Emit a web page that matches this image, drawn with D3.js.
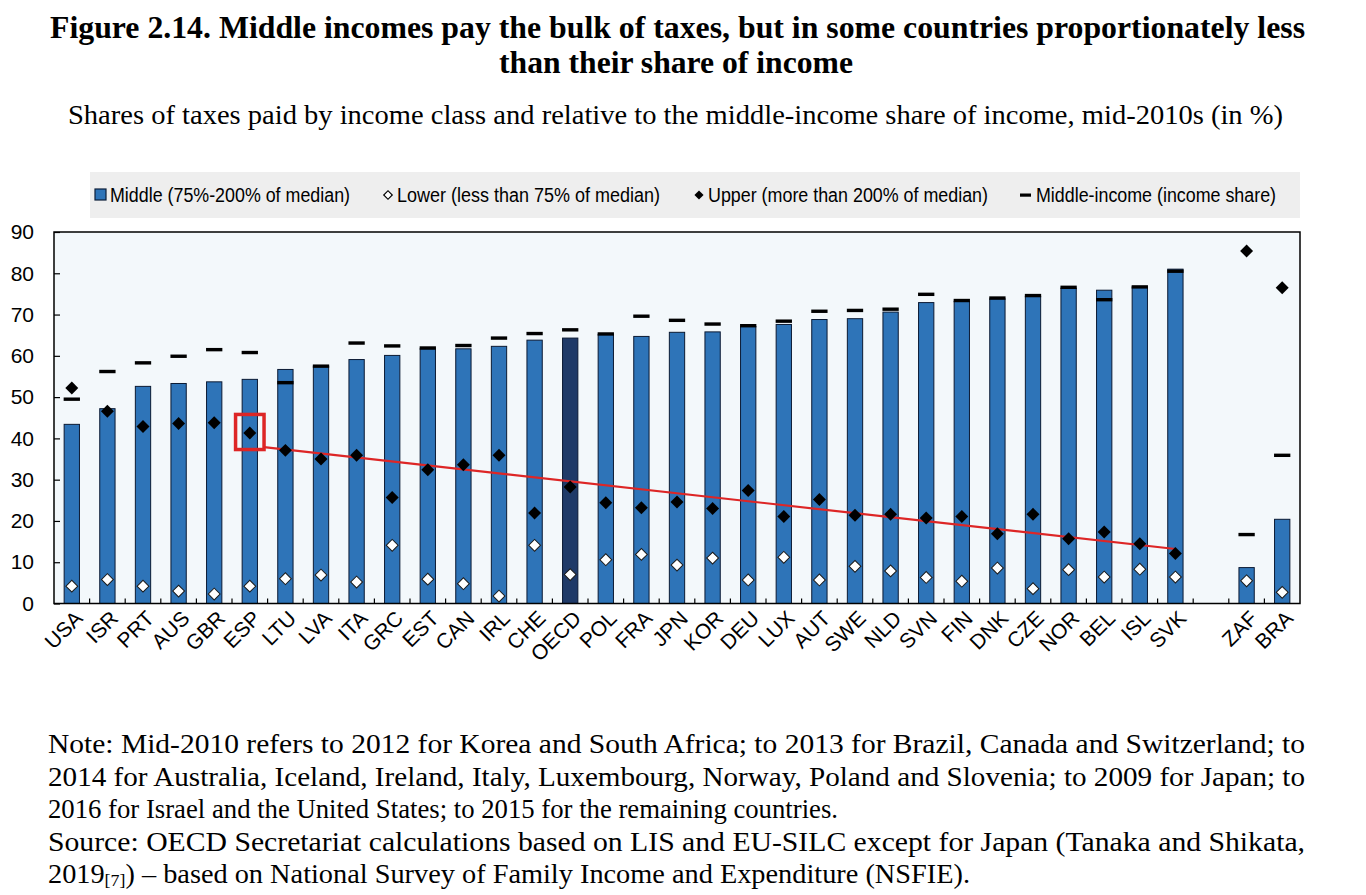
<!DOCTYPE html>
<html>
<head>
<meta charset="utf-8">
<script src="https://cdn.jsdelivr.net/npm/d3@7"></script>
<style>
  html, body { margin: 0; padding: 0; background: #ffffff; }
  svg { display: block; }
</style>
</head>
<body>
<svg id="chart" width="1366" height="895"></svg>
<script>
// ---------- DATA ----------
const countries = ["USA","ISR","PRT","AUS","GBR","ESP","LTU","LVA","ITA","GRC","EST","CAN","IRL","CHE","OECD","POL","FRA","JPN","KOR","DEU","LUX","AUT","SWE","NLD","SVN","FIN","DNK","CZE","NOR","BEL","ISL","SVK","ZAF","BRA"];
const gapAfter = "SVK";
const middleShare = [43.4,47.2,52.6,53.3,53.7,54.3,56.7,57.5,59.1,60.1,61.7,61.7,62.3,63.8,64.3,65.2,64.7,65.7,65.8,67.1,67.6,68.8,69.0,70.6,72.9,73.2,73.8,74.4,76.4,75.9,76.7,81.0,8.7,20.4];
const lowerShare  = [4.2,5.8,4.2,3.0,2.3,4.2,6.0,6.9,5.2,14.1,5.9,4.8,1.8,14.1,7.0,10.6,11.9,9.3,11.0,5.7,11.2,5.7,9.0,7.9,6.3,5.4,8.6,3.6,8.2,6.4,8.3,6.4,5.5,2.7];
const upperShare  = [52.2,46.6,42.9,43.6,43.8,41.3,37.1,35.0,35.9,25.7,32.4,33.6,35.9,21.9,28.2,24.4,23.2,24.6,23.0,27.4,21.1,25.2,21.4,21.6,20.7,21.1,16.9,21.6,15.7,17.3,14.5,12.1,85.4,76.5];
const incomeShare = [49.5,56.2,58.3,59.9,61.5,60.8,53.5,57.5,63.1,62.4,61.9,62.5,64.3,65.4,66.3,65.3,69.6,68.6,67.7,67.3,68.4,70.8,71.0,71.3,74.9,73.4,74.0,74.6,76.6,73.6,76.7,80.5,16.7,35.9];
const highlightCountry = "OECD";
const yTicks = [0,10,20,30,40,50,60,70,80,90];
// annotation: red box around ESP upper-share marker, red line down to SVK
const boxCountry = "ESP";
const boxRange = [37.3, 45.8];
const trendEnd = { country: "SVK", value: 13.2 };
const trendStartValue = 37.9;

const titleLines = ["Figure 2.14. Middle incomes pay the bulk of taxes, but in some countries proportionately less", "than their share of income"];
const subtitle = "Shares of taxes paid by income class and relative to the middle-income share of income, mid-2010s (in %)";
const legendLabels = ["Middle (75%-200% of median)", "Lower (less than 75% of median)", "Upper (more than 200% of median)", "Middle-income (income share)"];
const noteLines = [
  "Note: Mid-2010 refers to 2012 for Korea and South Africa; to 2013 for Brazil, Canada and Switzerland; to",
  "2014 for Australia, Iceland, Ireland, Italy, Luxembourg, Norway, Poland and Slovenia; to 2009 for Japan; to",
  "2016 for Israel and the United States; to 2015 for the remaining countries.",
  "Source: OECD Secretariat calculations based on LIS and EU-SILC except for Japan (Tanaka and Shikata,"
];

// ---------- LAYOUT ----------
const svg = d3.select("#chart");
const plot = { left: 54, right: 1300, top: 232, bottom: 603.5 };
const BLUE = "#2e74b8", DARK = "#1f3a68", RED = "#dd2626";
const serif = "'Liberation Serif','Times New Roman',serif";
const narrow = "'Liberation Sans Narrow','Arial Narrow','Liberation Sans',Arial,sans-serif";

const domain = [];
countries.forEach(c => { domain.push(c); if (c === gapAfter) domain.push("__gap__"); });
const x = d3.scaleBand().domain(domain).range([plot.left, plot.right]).padding(0);
const y = d3.scaleLinear().domain([0, 90]).range([plot.bottom, plot.top]);
const barW = x.bandwidth() * 0.43;
const cx = c => x(c) + x.bandwidth() / 2;

const data = countries.map((c, i) => ({ c, mid: middleShare[i], low: lowerShare[i], up: upperShare[i], inc: incomeShare[i] }));

// fit a text element to a target width: justify with word spacing if short, compress glyphs if long
function fit(el, width, justify) {
  const w = el.node().getComputedTextLength();
  const txt = el.text();
  const spaces = (txt.match(/ /g) || []).length;
  if (w < width && justify && spaces > 0) {
    el.attr("word-spacing", (width - w) / spaces);
  } else {
    el.attr("textLength", width).attr("lengthAdjust", "spacingAndGlyphs");
  }
}

// ---------- TITLES ----------
const t1 = svg.append("text").attr("x", 50).attr("y", 38).attr("font-family", serif).attr("font-weight", "bold")
  .attr("font-size", 32).attr("fill", "#000").text(titleLines[0]);
fit(t1, 1255, false);
const t2 = svg.append("text").attr("x", 499).attr("y", 73).attr("font-family", serif).attr("font-weight", "bold")
  .attr("font-size", 32).attr("fill", "#000").text(titleLines[1]);
fit(t2, 354, false);
const st = svg.append("text").attr("x", 68).attr("y", 124).attr("font-family", serif)
  .attr("font-size", 27).attr("fill", "#000").text(subtitle);
fit(st, 1215, false);

// ---------- LEGEND ----------
const lg = svg.append("g");
lg.append("rect").attr("x", 90).attr("y", 172).attr("width", 1210).attr("height", 46).attr("fill", "#eeeeee");
const legY = 195;
const sq = d3.symbol().type(d3.symbolSquare);
lg.append("rect").attr("x", 95).attr("y", legY - 6).attr("width", 11).attr("height", 11)
  .attr("fill", BLUE).attr("stroke", "#0d1f3a").attr("stroke-width", 1.2);
lg.append("path").attr("d", sq.size(36)()).attr("transform", `translate(388,${legY}) rotate(45)`)
  .attr("fill", "#fff").attr("stroke", "#000").attr("stroke-width", 1.2);
lg.append("path").attr("d", sq.size(42)()).attr("transform", `translate(699,${legY}) rotate(45)`).attr("fill", "#000");
lg.append("rect").attr("x", 1020).attr("y", legY - 1.5).attr("width", 11).attr("height", 3.2).attr("fill", "#000");
const legText = [[110, 240], [397, 263], [708, 280], [1036, 240]];
legendLabels.forEach((t, i) => {
  const el = lg.append("text").attr("x", legText[i][0]).attr("y", legY + 7).attr("font-family", narrow)
    .attr("font-size", 20).attr("fill", "#000").text(t);
  fit(el, legText[i][1], false);
});

// ---------- PLOT ----------
svg.append("rect").attr("x", plot.left).attr("y", plot.top)
  .attr("width", plot.right - plot.left).attr("height", plot.bottom - plot.top)
  .attr("fill", "#f3f8fb");

// bars
svg.append("g").selectAll("rect").data(data).join("rect")
  .attr("x", d => cx(d.c) - barW / 2)
  .attr("y", d => y(d.mid))
  .attr("width", barW)
  .attr("height", d => y(0) - y(d.mid))
  .attr("fill", d => d.c === highlightCountry ? DARK : BLUE)
  .attr("stroke", "#0b1a33").attr("stroke-width", 1);

// income share dashes
svg.append("g").selectAll("rect").data(data).join("rect")
  .attr("x", d => cx(d.c) - barW / 2 - 0.5)
  .attr("y", d => y(d.inc) - 1.7)
  .attr("width", barW + 1)
  .attr("height", 3.4)
  .attr("fill", "#000");

// red annotation box and line
const boxHalf = x.bandwidth() * 0.4;
svg.append("rect")
  .attr("x", cx(boxCountry) - boxHalf).attr("y", y(boxRange[1]))
  .attr("width", boxHalf * 2).attr("height", y(boxRange[0]) - y(boxRange[1]))
  .attr("fill", "none").attr("stroke", RED).attr("stroke-width", 3.5);
svg.append("line")
  .attr("x1", cx(boxCountry) + boxHalf).attr("y1", y(trendStartValue))
  .attr("x2", cx(trendEnd.country)).attr("y2", y(trendEnd.value))
  .attr("stroke", RED).attr("stroke-width", 2.2);

// lower (white diamonds)
svg.append("g").selectAll("path").data(data).join("path")
  .attr("d", sq.size(70)())
  .attr("transform", d => `translate(${cx(d.c)},${y(d.low)}) rotate(45)`)
  .attr("fill", "#fff").attr("stroke", "#1a1a1a").attr("stroke-width", 1);

// upper (black diamonds)
svg.append("g").selectAll("path").data(data).join("path")
  .attr("d", sq.size(84)())
  .attr("transform", d => `translate(${cx(d.c)},${y(d.up)}) rotate(45)`)
  .attr("fill", "#000");

// frame
svg.append("rect").attr("x", plot.left).attr("y", plot.top)
  .attr("width", plot.right - plot.left).attr("height", plot.bottom - plot.top)
  .attr("fill", "none").attr("stroke", "#000").attr("stroke-width", 1.5);

// y axis
const yAxis = d3.axisLeft(y).tickValues(yTicks).tickSize(-6).tickPadding(20).tickFormat(d3.format("d"));
const yg = svg.append("g").attr("transform", `translate(${plot.left},0)`).call(yAxis);
yg.select(".domain").remove();
yg.selectAll("line").attr("stroke", "#000").attr("stroke-width", 1.2);
yg.selectAll("text").attr("font-family", narrow).attr("font-size", 21).attr("fill", "#000");

// x axis: ticks at category boundaries
const bounds = domain.slice(1).map(d => x(d));
svg.append("g").selectAll("line").data(bounds).join("line")
  .attr("x1", d => d).attr("x2", d => d)
  .attr("y1", plot.bottom).attr("y2", plot.bottom - 5)
  .attr("stroke", "#000").attr("stroke-width", 1.2);

svg.append("g").selectAll("text").data(countries).join("text")
  .attr("transform", d => `translate(${cx(d) + 7},${plot.bottom + 11}) rotate(-45)`)
  .attr("text-anchor", "end").attr("dy", "0.35em")
  .attr("font-family", narrow).attr("font-size", 21).attr("fill", "#000")
  .text(d => d);

// ---------- NOTES ----------
const noteX = 48, noteY0 = 753, noteDY = 32.6;
const noteWidths = [1257, 1257, 790, 1257];
noteLines.forEach((t, i) => {
  const el = svg.append("text").attr("x", noteX).attr("y", noteY0 + i * noteDY)
    .attr("font-family", serif).attr("font-size", 27).attr("fill", "#000").text(t);
  el.attr("textLength", noteWidths[i]).attr("lengthAdjust", "spacingAndGlyphs");
});
const last = svg.append("text").attr("x", noteX).attr("y", noteY0 + 4 * noteDY)
  .attr("font-family", serif).attr("font-size", 27).attr("fill", "#000");
last.append("tspan").text("2019");
last.append("tspan").attr("font-size", 17).attr("dy", 3).text("[7]");
last.append("tspan").attr("dy", -3).text(") \u2013 based on National Survey of Family Income and Expenditure (NSFIE).");
last.attr("textLength", 922).attr("lengthAdjust", "spacingAndGlyphs");
</script>
</body>
</html>
